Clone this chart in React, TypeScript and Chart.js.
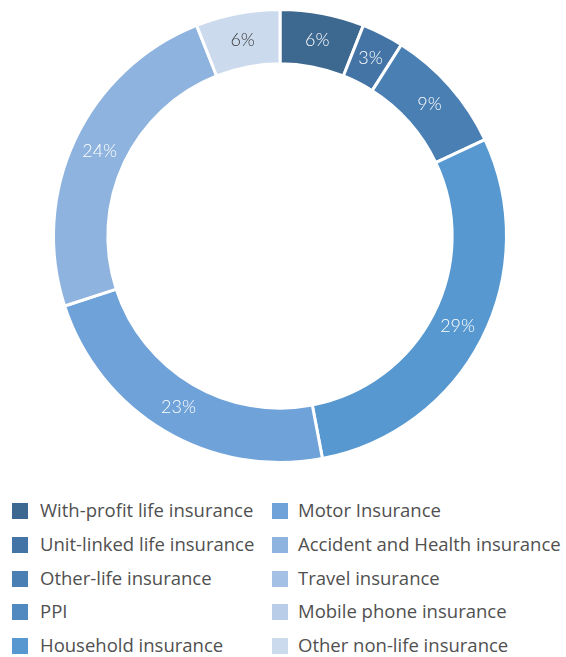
import React, { useEffect, useRef } from "react";
import { Chart, registerables } from "chart.js";

Chart.register(...registerables);

const categories = [
  "With-profit life insurance",
  "Unit-linked life insurance",
  "Other-life insurance",
  "PPI",
  "Household insurance",
  "Motor Insurance",
  "Accident and Health insurance",
  "Travel insurance",
  "Mobile phone insurance",
  "Other non-life insurance",
];
const shares = [6, 3, 9, 0, 29, 23, 24, 0, 0, 6];
const colors = [
  "#3D6890",
  "#4474A5",
  "#4A7FB4",
  "#4F89C0",
  "#5698CF",
  "#6EA2D8",
  "#8EB3DE",
  "#A4C1E5",
  "#B9CDE8",
  "#CCDAEE",
];
const labelColors = ["#ffffff", "#ffffff", "#ffffff", "#ffffff", "#ffffff", "#ffffff", "#ffffff", "#ffffff", "#444444", "#3a3a3a"];

const sliceLabels = {
  id: "sliceLabels",
  afterDatasetsDraw(chart: any) {
    const ctx = chart.ctx;
    const meta = chart.getDatasetMeta(0);
    ctx.save();
    ctx.font = "300 18px Lato, 'Open Sans', sans-serif";
    ctx.textAlign = "center";
    ctx.textBaseline = "middle";
    meta.data.forEach((arc: any, i: number) => {
      const v = shares[i];
      if (!v) return;
      const { x, y, startAngle, endAngle, innerRadius, outerRadius } = arc.getProps(
        ["x", "y", "startAngle", "endAngle", "innerRadius", "outerRadius"],
        true
      );
      const mid = (startAngle + endAngle) / 2;
      const r = (innerRadius + outerRadius) / 2;
      ctx.fillStyle = labelColors[i];
      ctx.fillText(v + "%", x + Math.cos(mid) * r, y + Math.sin(mid) * r);
    });
    ctx.restore();
  },
};

export default function App() {
  const ref = useRef<HTMLCanvasElement>(null);
  useEffect(() => {
    if (!ref.current) return;
    const chart = new Chart(ref.current, {
      type: "doughnut",
      data: {
        labels: categories,
        datasets: [
          {
            data: shares,
            backgroundColor: colors,
            borderColor: "#ffffff",
            borderWidth: 3,
          },
        ],
      },
      options: {
        animation: false,
        responsive: false,
        maintainAspectRatio: false,
        cutout: "76%",
        layout: { padding: { top: 8, bottom: 8, left: 0, right: 6 } },
        plugins: {
          legend: { display: false },
          tooltip: { enabled: false },
        },
      },
      plugins: [sliceLabels],
    });
    return () => chart.destroy();
  }, []);

  const rowsY = [511, 545, 579, 612, 646];
  return (
    <div style={{ position: "absolute", left: 0, top: 0, width: 566, height: 657, background: "#fff", overflow: "hidden" }}>
      <canvas ref={ref} width={566} height={472} style={{ position: "absolute", left: 0, top: 0 }} />
      {categories.map((c, i) => {
        const col = i < 5 ? 0 : 1;
        const row = i % 5;
        const bx = col === 0 ? 12 : 272;
        const tx = col === 0 ? 40 : 298;
        const cy = rowsY[row];
        return (
          <React.Fragment key={c}>
            <div style={{ position: "absolute", left: bx, top: cy - 8, width: 16, height: 16, background: colors[i] }} />
            <div
              style={{
                position: "absolute",
                left: tx,
                top: cy - 14,
                height: 26,
                lineHeight: "26px",
                fontFamily: "'Open Sans', sans-serif",
                fontSize: 18.5,
                color: "#505050",
                whiteSpace: "nowrap",
              }}
            >
              {c}
            </div>
          </React.Fragment>
        );
      })}
    </div>
  );
}
